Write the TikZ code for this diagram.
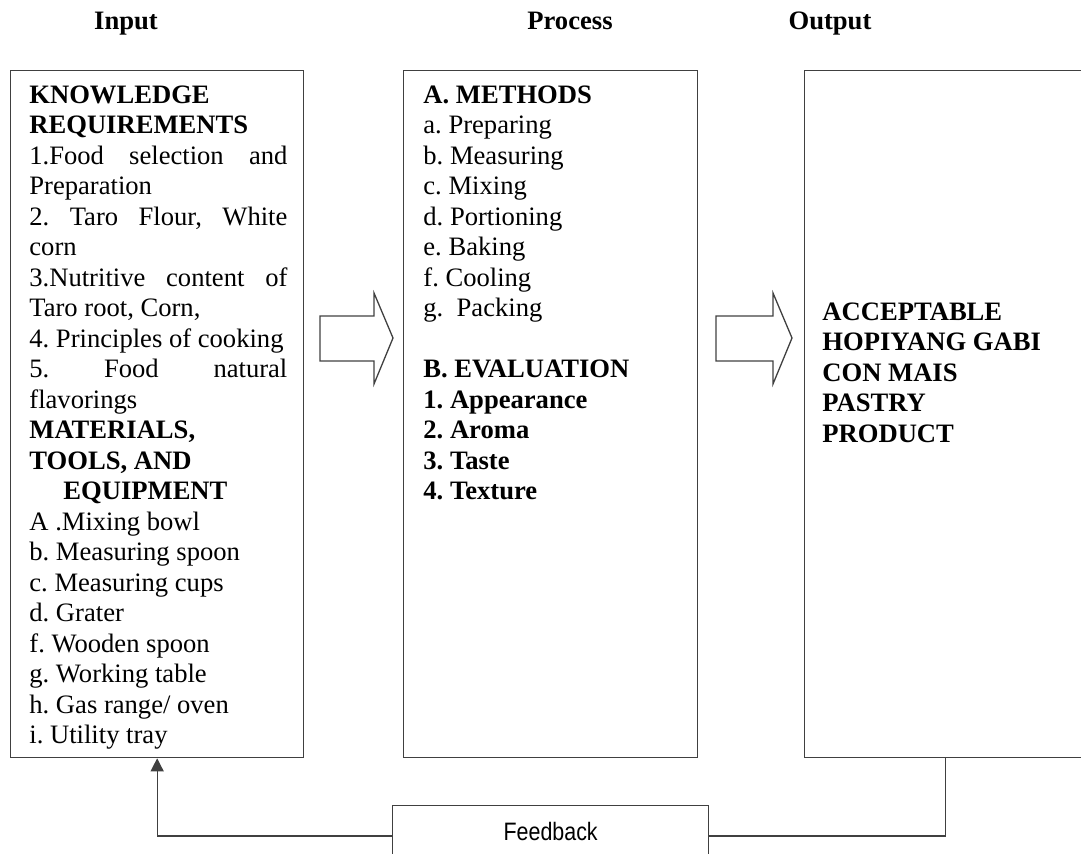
\documentclass[tikz,border=0pt]{standalone}
\usepackage{fontspec}
\setmainfont{Liberation Serif}
\setsansfont{Liberation Sans}
\usepackage{graphicx}
\usetikzlibrary{arrows.meta,positioning}
\definecolor{boxline}{RGB}{64,64,64}
\frenchspacing

% column width of the box texts, and a justified line spread over it
\newlength{\colw}
\setlength{\colw}{129pt}
\newcommand{\jline}[1]{\makebox[\colw][s]{\spaceskip=0pt\xspaceskip=0pt\relax #1}}

\begin{document}
\begin{tikzpicture}[x=0.5pt,y=-0.5pt,
  every node/.style={font=\fontsize{13.3pt}{15.25pt}\selectfont},
  heading/.style={font=\fontsize{13.3pt}{15.25pt}\selectfont\bfseries, anchor=base},
  ipobox/.style={draw=boxline, line width=0.65pt, anchor=north west, inner sep=0pt,
    minimum height=343.5pt},
  boxtext/.style={anchor=north west, inner sep=0pt, align=left, text width=\colw,
    execute at begin node={\spaceskip=0pt\xspaceskip=0pt\relax}},
  blockarrow/.style={draw=boxline, line width=0.65pt, line join=miter},
  link/.style={draw=boxline, line width=0.65pt}]

\useasboundingbox (0,0) rectangle (1081,854);
\clip (0,0) rectangle (1081,854);

%% ── Column headings ───────────────────────────────────────────
\node[heading] (inhead)   at (126,30) {Input};
\node[heading] (prochead) at (570,30) {Process};
\node[heading] (outhead)  at (830,30) {Output};

%% ── The three boxes ───────────────────────────────────────────
\node[ipobox, minimum width=146.5pt] (input)   at (10,70)  {};
\node[ipobox, minimum width=147pt]   (process) at (403,70) {};
\node[ipobox, minimum width=141pt]   (output)  at (804,70) {};

% Input contents
\node[boxtext] (intext) at (29,85) {%
  \textbf{KNOWLEDGE}\\
  \textbf{REQUIREMENTS}\\
  \jline{1.Food selection and}\\
  Preparation\\
  \jline{2. Taro Flour, White}\\
  corn\\
  \jline{3.Nutritive content of}\\
  Taro root, Corn,\\
  \mbox{4. Principles of cooking}\\
  \jline{5. Food natural}\\
  flavorings\\
  \textbf{MATERIALS,}\\
  \textbf{TOOLS, AND}\\
  \hspace*{17pt}\textbf{EQUIPMENT}\\
  A .Mixing bowl\\
  b. Measuring spoon\\
  c. Measuring cups\\
  d. Grater\\
  f. Wooden spoon\\
  g. Working table\\
  h. Gas range/ oven\\
  i. Utility tray};

% Process contents
\node[boxtext] (proctext) at (423,85) {%
  \textbf{A. METHODS}\\
  a. Preparing\\
  b. Measuring\\
  c. Mixing\\
  d. Portioning\\
  e. Baking\\
  f. Cooling\\
  g.\ \ Packing\\[15.25pt]
  \textbf{B. EVALUATION}\\
  \textbf{1. Appearance}\\
  \textbf{2. Aroma}\\
  \textbf{3. Taste}\\
  \textbf{4. Texture}};

% Output contents
\node[boxtext, font=\fontsize{13.3pt}{15.25pt}\selectfont\bfseries]
  (outtext) at (822,302) {%
  ACCEPTABLE\\
  HOPIYANG GABI\\
  CON MAIS\\
  PASTRY\\
  PRODUCT};

%% ── Block arrows between the boxes ────────────────────────────
\foreach \ax/\al in {320/54, 716/57}
  \draw[blockarrow] (\ax,316) -- ++(\al,0) -- ++(0,-23) -- ++(19,45)
    -- ++(-19,46) -- ++(0,-23) -- ++(-\al,0) -- cycle;

%% ── Feedback loop ─────────────────────────────────────────────
\node[ipobox, minimum width=158pt, minimum height=0pt, text height=17.5pt,
      text depth=25pt, font=\sffamily\fontsize{12.6pt}{14pt}\selectfont]
  (feedback) at (392,805) {\scalebox{0.85}[1]{Feedback}};

\draw[link] (output.south) |- (feedback.mid east);
\draw[link, -{Triangle[length=6.5pt,width=6.5pt]}]
  (feedback.mid west) -| (input.south);

\end{tikzpicture}
\end{document}
